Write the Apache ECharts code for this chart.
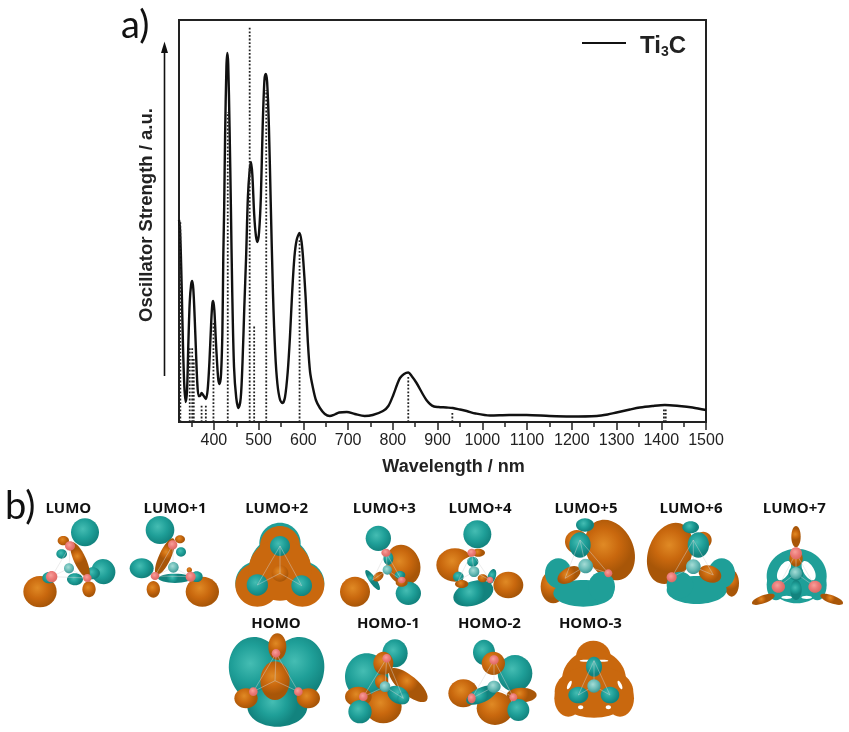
<!DOCTYPE html>
<html>
<head>
<meta charset="utf-8">
<style>html,body{margin:0;padding:0;background:#fff}#main{width:849px;height:732px}</style>
<script src="https://cdn.jsdelivr.net/npm/echarts@6/dist/echarts.min.js"></script>
</head>
<body>
<div id="main"></div>
<script>
// wavelength (nm) and absorption (a.u., no scale in the original)
var wavelengths = [322,324,326,328,331,334,337,340,343,346,349,351.5,354,357,360,363,366,369,372.5,376,382,386,390,394,396.5,398.5,401,404,407,410,413,416,419,421,423,425,428,430,432,435,438,441,445,450,455,460,464,468,472,476,480,483,486,490,494,497.7,501,505,509,513,516,519,523,527,532,537,542,548,553.5,559,565,570,575,580,585,591.5,596,600,605,610,615,621,628,637,648,659,670,680,697,715,737,755,778,790,801,810,816,825,834.5,842,853,868,875,883,892,902,920,934,950,965,985,1017,1060,1099,1150,1196,1256,1280,1300,1330,1352,1380,1408,1440,1470,1500];
var absorption = [202,195,170,135,75,35,20,32,80,120,137,141,133,105,70,38,26,26,29,27,23,32,60,100,118,121,112,85,60,42,38,48,90,165,215,285,355,369,358,295,215,130,55,24,14,24,60,115,165,225,252,260,247,208,186,180,190,225,295,342,348,340,295,220,130,70,38,22,19,25,50,85,130,165,182,189,180,160,125,80,50,35,22,14,8,6,7.5,9.5,10,8,6,7,11,16,27,38,44,48,49.5,46,39,27,22,18,15.5,15,14.5,14,12.5,11,8.5,6.5,7,7,6,5.5,6,7.5,9.5,12.5,14.5,16,17,16,14.5,12];
// oscillator strengths (dotted sticks)
var stickNm = [325,346,351.5,355,372.5,382,399,431,480,490,517,591.5,834.5,933,1406,1410];
var stickVal = [200,75,74,64,18,18,99,310,395,97,332,182,45,10,13,13];
var tickLabels = [400,500,600,700,800,900,1000,1100,1200,1300,1400,1500];
var minorTicks = [350,450,550,650,750,850,950,1050,1150,1250,1350,1450];

// orbital drawings: [color, cx, cy, rx, ry, rotation deg ccw], coordinates on a 3x sheet
// T teal, O orange, t/o the same flat, P pink atom, S pale centre atom, W background hole
var orbitalsLeft = [
  {name:'LUMO', lx:205, ly:57, atoms:[[207,235],[155,260],[210,168],[262,264]], lobes:[
    ['O',120,305,50,47,0],['T',255,127,42,42,0],['T',310,245,36,38,20],['T',278,250,22,18,0],['O',240,210,18,58,25],
    ['O',190,152,17,14,0],['T',185,192,16,14,0],['T',225,268,24,18,0],['O',267,298,20,24,0],['T',147,263,20,17,0],
    ['P',155,260,17,17,0],['P',210,168,15,14,0],['P',262,264,13,12,0],['S',207,235,15,15,0]]},
  {name:'LUMO+1', lx:525, ly:57, atoms:[[520,232],[465,258],[518,165],[572,260]], lobes:[
    ['O',607,305,50,45,0],['T',480,120,43,42,0],['T',425,235,36,30,0],['O',495,200,18,60,-25],['O',540,148,15,12,0],
    ['T',543,186,15,14,0],['O',460,298,20,25,0],['T',525,265,50,14,0],['T',590,260,18,16,0],
    ['P',465,258,13,12,0],['P',518,165,14,14,0],['P',572,260,15,15,0],['S',520,232,16,16,0],['O',568,240,8,8,0]]},
  {name:'LUMO+2', lx:830, ly:57, atoms:[[840,250],[840,168],[772,285],[905,287]], lobes:[
    ['t',840,160,62,62,0],['t',772,280,66,66,0],['t',907,280,66,66,0],['t',840,235,92,95,0],
    ['o',840,168,60,60,0],['o',772,285,66,65,0],['o',907,285,66,65,0],['o',840,240,94,92,0],
    ['T',840,168,30,30,0],['T',772,285,32,32,0],['T',905,287,31,31,0],['O',840,250,25,25,0]]},
  {name:'LUMO+3', lx:1153, ly:57, atoms:[[1162,240],[1158,188],[1118,270],[1205,270]], lobes:[
    ['O',1065,305,45,45,0],['O',1210,225,50,62,20],['T',1225,310,38,35,0],['T',1135,145,38,38,0],['T',1165,205,15,20,0],
    ['T',1118,270,10,36,35],['O',1135,260,18,12,40],['T',1200,255,16,12,0],['O',1205,278,18,12,0],
    ['P',1158,188,14,12,0],['P',1205,270,12,10,0],['S',1162,240,14,14,0]]},
  {name:'HOMO', lx:828, ly:402, atoms:[[825,572],[828,490],[760,605],[895,605]], lobes:[
    ['T',770,540,82,100,15],['T',890,540,82,100,-15],['T',832,650,90,60,0],['O',832,470,27,40,0],['O',825,572,44,58,0],
    ['O',738,625,35,30,0],['O',925,625,35,30,0],['P',828,490,13,13,0],['P',760,605,13,13,0],['P',895,605,13,13,0]]},
  {name:'HOMO-1', lx:1165, ly:402, atoms:[[1155,590],[1160,505],[1090,620],[1210,625]], lobes:[
    ['T',1185,490,38,42,0],['T',1100,560,65,70,0],['O',1150,520,30,35,0],['O',1225,585,72,28,-40],['O',1150,650,55,50,0],
    ['O',1075,620,40,30,0],['T',1080,665,35,35,0],['T',1195,615,35,25,-30],['O',1145,575,20,22,0],
    ['S',1155,590,16,16,0],['P',1160,505,13,13,0],['P',1090,620,13,13,0],['T',1210,625,18,18,0]]}
];
var orbitalsRight = [
  {name:'LUMO+4', lx:180, ly:57, atoms:[[162,245],[155,188],[115,272],[210,270]], lobes:[
    ['T',172,133,42,42,0],['O',105,225,56,50,0],['W',165,240,50,42,0],['T',160,310,62,36,18],['O',265,285,45,40,0],
    ['O',175,188,20,12,0],['P',155,188,13,12,0],['T',158,215,17,15,0],['S',162,245,16,16,0],['T',115,260,16,15,0],
    ['O',125,282,20,12,0],['T',215,260,12,24,-20],['P',210,270,10,10,0],['O',188,265,15,12,0]]},
  {name:'LUMO+5', lx:498, ly:57, atoms:[[497,228],[480,150],[435,265],[565,250]], lobes:[
    ['O',570,180,70,95,25],['O',400,290,38,50,0],['T',495,105,27,20,0],['O',470,155,35,35,0],['T',480,165,32,38,0],
    ['t',415,250,40,45,0],['t',490,310,90,40,0],['t',545,290,40,45,0],['O',447,255,38,22,30],['S',497,228,22,22,0],['P',565,250,12,12,0]]},
  {name:'LUMO+6', lx:813, ly:57, atoms:[[820,230],[820,150],[755,262],[880,255]], lobes:[
    ['O',750,190,65,95,-20],['O',935,280,22,40,0],['T',812,112,25,18,0],['O',850,150,25,25,0],['T',835,165,32,38,0],
    ['t',905,250,40,45,0],['t',830,300,90,42,0],['t',780,285,40,40,0],['O',870,252,35,25,-20],['S',820,230,22,22,0],['P',755,262,15,15,0]]},
  {name:'LUMO+7', lx:1123, ly:57, atoms:[[1128,250],[1128,190],[1075,290],[1185,290]], lobes:[
    ['O',1128,140,14,32,0],['t',1130,258,90,82,0],['t',1068,285,28,46,0],['t',1192,285,28,46,0],
    ['W',1092,242,16,32,-30],['W',1166,242,16,32,30],['W',1100,322,16,5,0],['W',1160,322,16,5,0],
    ['T',1128,250,22,22,0],['T',1128,300,17,30,0],['O',1128,205,20,25,0],['P',1128,190,18,18,0],
    ['O',1030,328,36,12,20],['O',1235,328,36,12,-20],['P',1075,290,20,18,0],['P',1185,290,20,18,0],['S',1128,250,18,18,0]]},
  {name:'HOMO-2', lx:208, ly:402, atoms:[[222,590],[222,510],[155,625],[280,622]], lobes:[
    ['T',192,487,33,38,0],['T',285,550,52,55,0],['O',220,520,35,35,0],['O',130,610,45,42,0],['O',225,655,55,50,0],
    ['O',305,615,45,22,0],['T',295,660,33,33,0],['T',185,615,50,22,25],['S',222,590,20,18,0],
    ['P',222,510,14,14,0],['P',155,625,12,15,0],['P',280,622,12,12,0]]},
  {name:'HOMO-3', lx:511, ly:402, atoms:[[522,588],[522,512],[475,615],[570,615]], lobes:[
    ['o',520,500,52,48,0],['o',522,570,96,90,0],['o',522,605,118,78,0],['o',445,625,42,55,0],['o',600,625,42,55,0],
    ['W',497,512,18,3,0],['W',547,512,18,3,0],['W',448,585,5,14,-25],['W',600,585,5,14,25],['W',482,652,8,6,0],['W',565,652,8,6,0],
    ['T',522,530,24,30,0],['T',475,615,30,25,0],['T',570,615,28,25,0],['S',522,588,20,20,0]]}
];

var lobeColors = {
  T: ['#45bdb3','#1f9f98','#12837e'],
  O: ['#e08a25','#c9680e','#a85608'],
  P: ['#f7a09a','#ec7a78','#dc6a64'],
  S: ['#a5dcd6','#6cbdb8','#3f9a97']
};
var flatColors = {W: '#fff', t: '#1f9f98', o: '#c9680e'};

function lobeShape(l, ox, oy) {
  var c = lobeColors[l[0]];
  var fill = flatColors[l[0]] || new echarts.graphic.RadialGradient(0.42, 0.38, 0.62, [
    {offset: 0, color: c[0]}, {offset: 0.55, color: c[1]}, {offset: 1, color: c[2]}
  ]);
  return {
    type: 'ellipse',
    x: ox + l[1] / 3, y: oy + l[2] / 3,
    rotation: l[5] * Math.PI / 180,
    shape: {cx: 0, cy: 0, rx: l[3] / 3, ry: l[4] / 3},
    style: {fill: fill},
    silent: true
  };
}

function orbitalElements(list, ox, oy) {
  var out = [];
  list.forEach(function (o) {
    out.push({
      type: 'text', x: ox + o.lx / 3, y: oy + o.ly / 3,
      style: {text: o.name, font: 'bold 15px "Open Sans"', fill: '#111', textAlign: 'center', textVerticalAlign: 'middle'}
    });
    // everything but the atoms goes first, bonds sit on the lobes
    o.lobes.forEach(function (l) { if (l[0] !== 'P' && l[0] !== 'S') out.push(lobeShape(l, ox, oy)); });
    var a = o.atoms;
    [[0,1],[0,2],[0,3],[1,2],[1,3]].forEach(function (p) {
      out.push({
        type: 'line', silent: true,
        shape: {x1: ox + a[p[0]][0] / 3, y1: oy + a[p[0]][1] / 3, x2: ox + a[p[1]][0] / 3, y2: oy + a[p[1]][1] / 3},
        style: {stroke: '#d4d4d4', lineWidth: 0.8, opacity: 0.55}
      });
    });
    o.lobes.forEach(function (l) { if (l[0] === 'P' || l[0] === 'S') out.push(lobeShape(l, ox, oy)); });
  });
  return out;
}

var chart = echarts.init(document.getElementById('main'), null, {renderer: 'canvas'});

var option = {
  animation: false,
  backgroundColor: '#fff',
  grid: {left: 179, right: 143, top: 20, bottom: 310, show: true, borderColor: '#222', borderWidth: 2, backgroundColor: 'transparent'},
  legend: {
    data: [{name: 'Ti3C', icon: 'rect', itemStyle: {color: '#111'}}],
    left: 577, top: 29, itemWidth: 44, itemHeight: 2, itemGap: 14,
    formatter: function () { return '{b|Ti}{s|3}{b|C}'; },
    textStyle: {padding: [6, 0, 0, 9], rich: {
      b: {fontFamily: 'Liberation Sans', fontWeight: 'bold', fontSize: 24, color: '#222'},
      s: {fontFamily: 'Liberation Sans', fontWeight: 'bold', fontSize: 14, color: '#222', verticalAlign: 'bottom', padding: [12, 0, 0, 0]}
    }}
  },
  xAxis: [{
    type: 'value', min: 322, max: 1500,
    name: 'Wavelength / nm', nameLocation: 'middle', nameGap: 36,
    nameTextStyle: {fontFamily: 'Liberation Sans', fontWeight: 'bold', fontSize: 18, color: '#222', padding: [0, 0, 0, 22]},
    axisLine: {show: true, lineStyle: {color: '#222', width: 2}},
    axisTick: {show: true, length: 8, lineStyle: {color: '#222', width: 1.5}, customValues: tickLabels},
    axisLabel: {fontFamily: 'Liberation Sans', fontSize: 16, color: '#222', margin: 11, customValues: tickLabels,
      formatter: function (v) { return String(v); }},
    splitLine: {show: false}
  }, {
    type: 'value', min: 322, max: 1500, position: 'bottom',
    axisLine: {show: false},
    axisTick: {show: true, length: 5, lineStyle: {color: '#222', width: 1.5}, customValues: minorTicks},
    axisLabel: {show: false},
    splitLine: {show: false}
  }],
  yAxis: {
    type: 'value', min: 0, max: 402,
    name: 'Oscillator Strength / a.u.', nameLocation: 'middle', nameGap: 23,
    nameTextStyle: {fontFamily: 'Liberation Sans', fontWeight: 'bold', fontSize: 18.5, color: '#222', padding: [0, 0, 0, 12]},
    axisLine: {show: true, lineStyle: {color: '#222', width: 2}},
    axisTick: {show: false}, axisLabel: {show: false}, splitLine: {show: false}
  },
  series: [{
    name: 'Ti3C', type: 'line', showSymbol: false, smooth: 0.3,
    lineStyle: {color: '#111', width: 2.4}, itemStyle: {color: '#111'},
    data: wavelengths.map(function (w, i) { return [w, absorption[i]]; }),
    z: 3
  }, {
    name: 'sticks', type: 'custom', silent: true, clip: true,
    renderItem: function (params, api) {
      var a = api.coord([api.value(0), 0]), b = api.coord([api.value(0), api.value(1)]);
      return {type: 'line', shape: {x1: a[0], y1: a[1], x2: b[0], y2: b[1]},
        style: {stroke: '#222', lineWidth: 1.8, lineDash: [1.8, 1.8]}};
    },
    encode: {x: 0, y: 1},
    data: stickNm.map(function (w, i) { return [w, stickVal[i]]; }),
    z: 4
  }],
  graphic: {elements: [
    {type: 'line', silent: true, shape: {x1: 164.5, y1: 376, x2: 164.5, y2: 50}, style: {stroke: '#111', lineWidth: 1.6}},
    {type: 'polygon', silent: true, shape: {points: [[164.5, 41.5], [161, 53], [168, 53]]}, style: {fill: '#111'}},
    {type: 'text', x: 121, y: 26, style: {text: 'a)', font: '38px Lato', fill: '#111', textVerticalAlign: 'middle'}},
    {type: 'text', x: 5, y: 507, style: {text: 'b)', font: '38px Lato', fill: '#111', textVerticalAlign: 'middle'}}
  ].concat(orbitalElements(orbitalsLeft, 0, 490), orbitalElements(orbitalsRight, 420, 490))}
};

chart.setOption(option);
</script>
</body>
</html>
